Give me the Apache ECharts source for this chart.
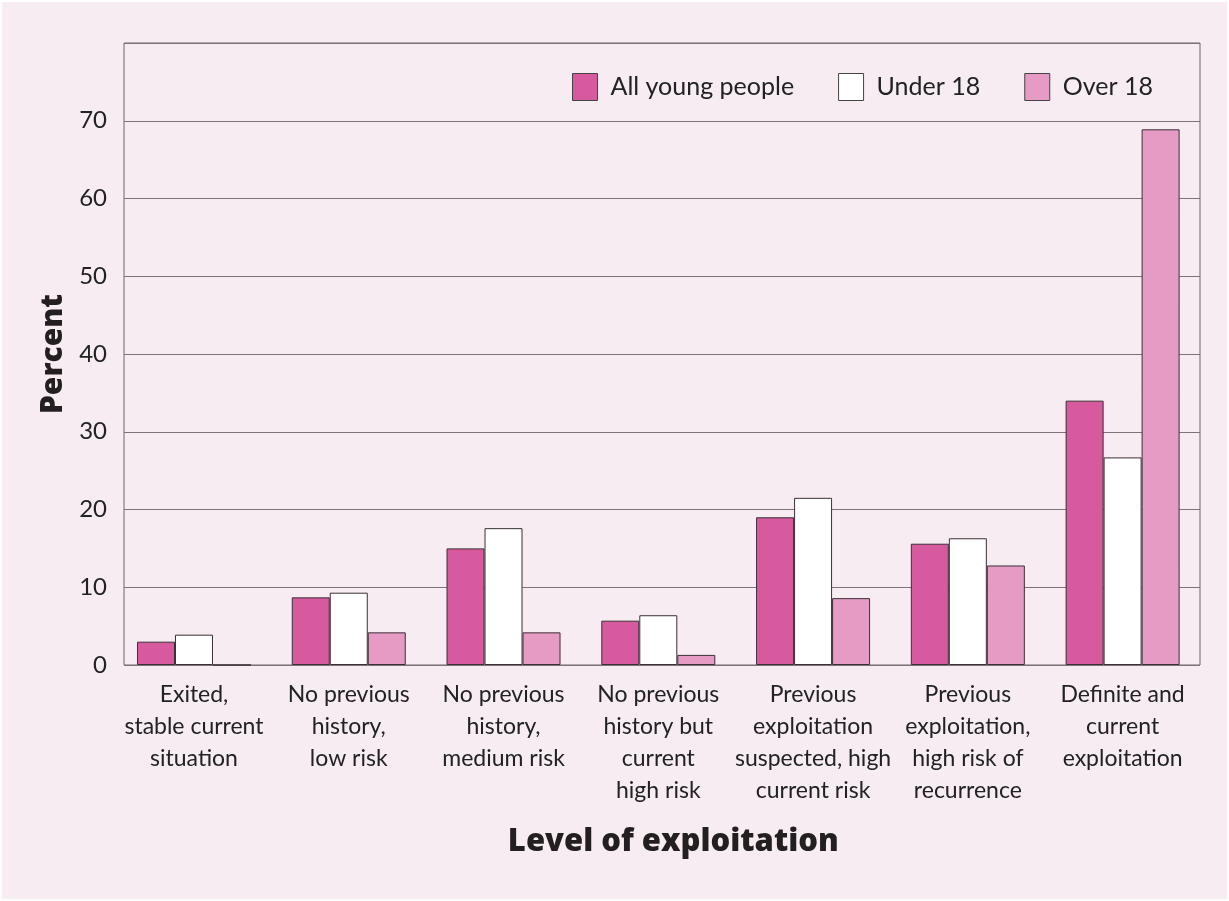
<!DOCTYPE html>
<html>
<head>
<meta charset="utf-8">
<style>
  html, body { margin: 0; padding: 0; background: #ffffff; }
  #chart { position: absolute; left: 2px; top: 2px; width: 1225px; height: 897px; background: #f7ecf2; }
</style>
<script src="https://cdn.jsdelivr.net/npm/echarts@6/dist/echarts.min.js"></script>
</head>
<body>
<div id="chart"></div>
<script>
// Level of exploitation categories
const categories = [
  'Exited,\nstable current\nsituation',
  'No previous\nhistory,\nlow risk',
  'No previous\nhistory,\nmedium risk',
  'No previous\nhistory but\ncurrent\nhigh risk',
  'Previous\nexploitation\nsuspected, high\ncurrent risk',
  'Previous\nexploitation,\nhigh risk of\nrecurrence',
  'Definite and\ncurrent\nexploitation'
];

// Percent of young people in each group
const allYoungPeople = [3.0, 8.7, 15.0, 5.7, 19.0, 15.6, 34.0];
const under18 = [3.9, 9.3, 17.6, 6.4, 21.5, 16.3, 26.7];
const over18 = [0, 4.2, 4.2, 1.3, 8.6, 12.8, 68.9];

const seriesNames = ['All young people', 'Under 18', 'Over 18'];
const seriesColors = ['#d75a9f', '#ffffff', '#e59bc4'];
const seriesData = [allYoungPeople, under18, over18];

const FONT = 'Lato, "Open Sans", sans-serif';
const TITLE_FONT = '"Open Sans", Lato, sans-serif';
const Y_MAX = 80;

const chart = echarts.init(document.getElementById('chart'), null, { renderer: 'canvas' });

chart.setOption({
  backgroundColor: '#f7ecf2',
  animation: false,
  grid: [
    // frame with gridlines and the percent scale
    { left: 122, right: 27, top: 41, bottom: 234, show: true, borderColor: '#6f656b', borderWidth: 1, backgroundColor: 'transparent' },
    // bar groups, laid out slightly wider to the left than the frame
    { left: 114.6, right: 27, top: 41, bottom: 234 }
  ],
  legend: {
    left: 565, top: 66,
    itemWidth: 25, itemHeight: 27, itemGap: 44,
    icon: 'rect',
    textStyle: { fontFamily: FONT, fontSize: 25, color: '#222', padding: [0, 0, 0, 8] },
    data: seriesNames.map((n, i) => ({ name: n, itemStyle: { color: seriesColors[i], borderColor: '#444', borderWidth: 1 } }))
  },
  xAxis: [
    { type: 'category', gridIndex: 0, data: categories, show: false },
    {
      type: 'category',
      gridIndex: 1,
      data: categories,
      axisTick: { show: false },
      axisLine: { show: false },
      axisLabel: { fontFamily: FONT, fontSize: 23, lineHeight: 32, color: '#222', margin: 14, interval: 0 },
      name: 'Level of exploitation',
      nameLocation: 'middle',
      nameGap: 162,
      nameTextStyle: { fontFamily: TITLE_FONT, fontSize: 31, fontWeight: 800, color: '#231f20', padding: [0, 0, 0, 30] }
    }
  ],
  yAxis: [
    {
      type: 'value',
      gridIndex: 0,
      min: 0, max: Y_MAX, interval: 10,
      axisLine: { show: false },
      axisTick: { show: false },
      splitLine: { lineStyle: { color: '#7d7379', width: 1 } },
      axisLabel: {
        fontFamily: FONT, fontSize: 24, color: '#222', margin: 17,
        formatter: v => (v === Y_MAX ? '' : String(v))
      },
      name: 'Percent',
      nameLocation: 'middle',
      nameGap: 50,
      nameRotate: 90,
      nameTextStyle: { fontFamily: TITLE_FONT, fontSize: 30, fontWeight: 800, color: '#231f20' }
    },
    { type: 'value', gridIndex: 1, min: 0, max: Y_MAX, interval: 10, show: false }
  ],
  series: seriesNames.map((n, i) => ({
    name: n,
    type: 'bar',
    xAxisIndex: 1,
    yAxisIndex: 1,
    data: seriesData[i],
    barWidth: 38,
    barGap: '0%',
    itemStyle: { color: seriesColors[i], borderColor: '#3a3035', borderWidth: 1 }
  }))
});
</script>
</body>
</html>
